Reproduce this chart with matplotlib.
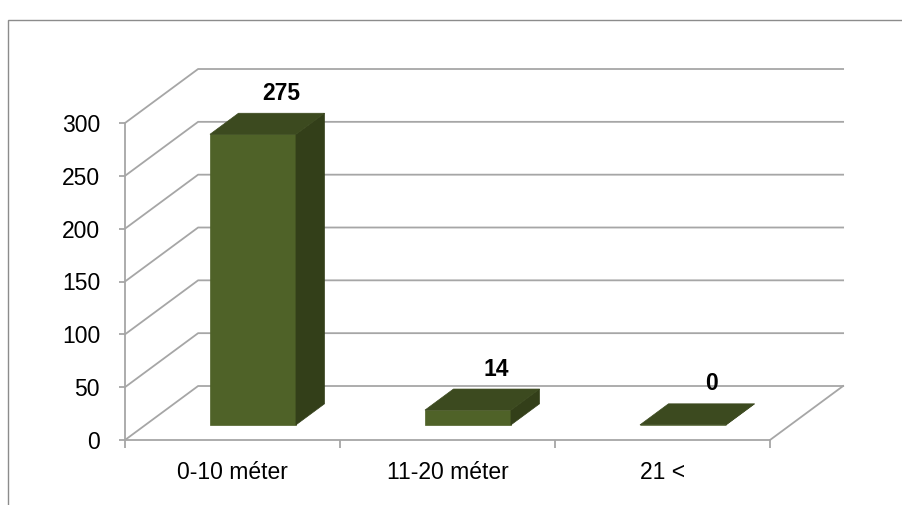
import numpy as np
import matplotlib.pyplot as plt
from matplotlib.patches import Polygon, Rectangle

categories = ['0-10 méter', '11-20 méter', '21 <']
values = [275, 14, 0]
yticks = [0, 50, 100, 150, 200, 250, 300]

plt.rcParams['font.family'] = ['Liberation Sans Narrow', 'Liberation Sans', 'DejaVu Sans']

fig = plt.figure(figsize=(9.02, 5.05), dpi=100)
# front plane of the 3d box
ax = fig.add_axes([125 / 902, 1 - 440 / 505, 645 / 902, 317 / 505])
ax.set_xlim(0, 3)
ax.set_ylim(0, 300)
ax.set_facecolor('none')

# depth offset (full depth) in data units
DX, DY = 0.34, 51.1


def proj(x, y, z):
    return (x + z * DX, y + z * DY)


grid_c = '#a6a6a6'
for v in yticks:
    pts = [proj(0, v, 0), proj(0, v, 1), proj(3, v, 1)]
    ax.plot(*zip(*pts), color=grid_c, lw=1.3, clip_on=False, zorder=1)
pts = [proj(3, 0, 0), proj(3, 0, 1)]
ax.plot(*zip(*pts), color=grid_c, lw=1.3, clip_on=False, zorder=1)

# bars
front_c, top_c, side_c = '#4f6228', '#3c4a1f', '#333f19'
z0, z1 = 0.28, 0.67
w = 0.2
for i, v in enumerate(values):
    c = i + 0.5
    front = [proj(c - w, 0, z0), proj(c + w, 0, z0), proj(c + w, v, z0), proj(c - w, v, z0)]
    side = [proj(c + w, 0, z0), proj(c + w, 0, z1), proj(c + w, v, z1), proj(c + w, v, z0)]
    top = [proj(c - w, v, z0), proj(c + w, v, z0), proj(c + w, v, z1), proj(c - w, v, z1)]
    for poly, col in [(front, front_c), (side, side_c), (top, top_c)]:
        ax.add_patch(Polygon(poly, closed=True, facecolor=col, edgecolor=col,
                             lw=0.5, clip_on=False, zorder=3))
    ax.annotate(str(v), xy=proj(c, v, z1), xytext=(0, 6), textcoords='offset points',
                ha='center', va='bottom', fontsize=16.5, fontweight='bold', zorder=4,
                annotation_clip=False)

# axes
for s in ['top', 'right']:
    ax.spines[s].set_visible(False)
for s in ['left', 'bottom']:
    ax.spines[s].set_color(grid_c)
    ax.spines[s].set_linewidth(1.3)
    ax.spines[s].set_zorder(2)

ax.set_yticks(yticks)
ax.tick_params(axis='y', length=4.5, width=1.3, color=grid_c, pad=13.5, labelsize=16.5)
ax.set_xticks([0, 1, 2, 3])
ax.set_xticklabels([])
ax.set_xticks([0.5, 1.5, 2.5], minor=True)
ax.set_xticklabels(categories, minor=True)
ax.tick_params(axis='x', which='major', length=6, width=1.3, color=grid_c)
ax.tick_params(axis='x', which='minor', length=0, pad=15, labelsize=16.5)

# chart area border
fig.add_artist(Rectangle((8 / 902, -0.5), 2, 1.5 - 20 / 505, transform=fig.transFigure,
                         fill=False, edgecolor='#8c8c8c', lw=1))

fig.savefig('out.png', dpi=100)
